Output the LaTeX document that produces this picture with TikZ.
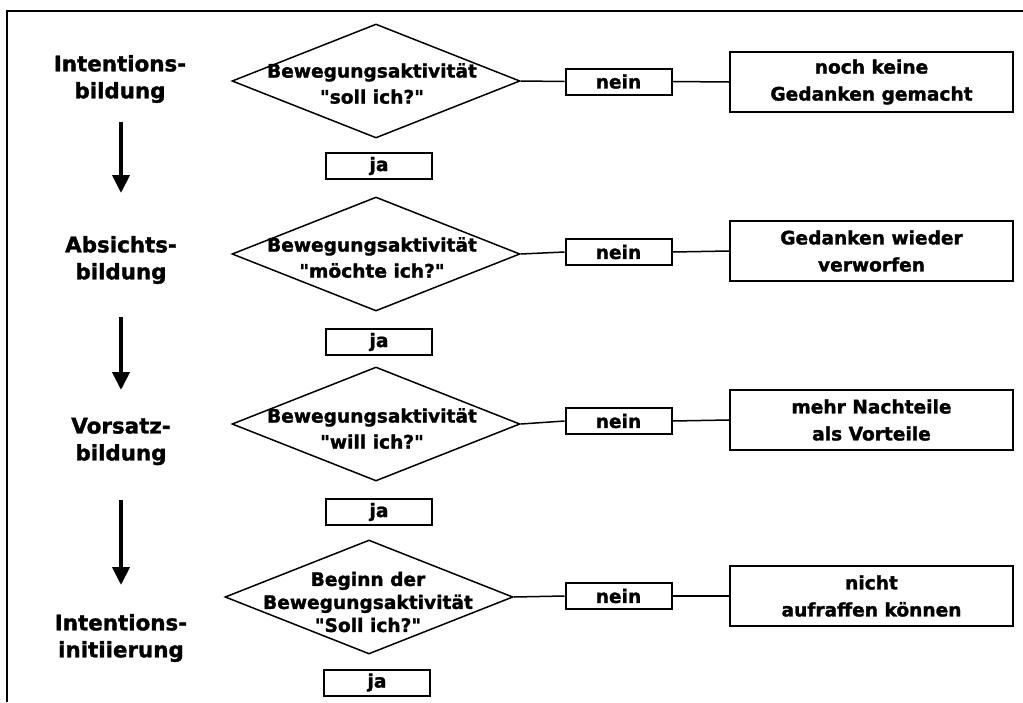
\documentclass[tikz,border=0pt]{standalone}
\usepackage{fontspec}
\newfontfamily\df{DejaVu Sans}[BoldFeatures={FakeBold=1.5}]
\usetikzlibrary{shapes.geometric,arrows.meta}
\begin{document}
\begin{tikzpicture}[x=1pt,y=-1pt,
  every node/.style={inner sep=0pt},
  stagelbl/.style={align=center,font=\df\bfseries\fontsize{21.4}{27}\selectfont},
  txt/.style={align=center,font=\df\bfseries\fontsize{18.6}{26}\selectfont},
  dec/.style={shape=diamond,draw,line width=1.5pt,minimum width=288pt,minimum height=114pt},
  jabox/.style={draw,line width=2pt,minimum width=106pt,minimum height=26pt,font=\df\bfseries\fontsize{18.6}{26}\selectfont},
  neinbox/.style={draw,line width=2pt,minimum width=106pt,minimum height=26pt,font=\df\bfseries\fontsize{18.6}{26}\selectfont},
  resbox/.style={draw,line width=2pt,minimum width=283pt,minimum height=60pt,align=center,font=\df\bfseries\fontsize{18.6}{27}\selectfont},
  conn/.style={line width=1.5pt},
  bigarrow/.style={line width=4pt,-{Triangle[width=17pt,length=18pt]}}
]
\useasboundingbox (0,0) rectangle (1023,702);
% frame
\coordinate (fbl) at (7,702);
\coordinate (ftl) at (7,11);
\coordinate (ftr) at (1023,11);
\draw[line width=2pt] (fbl) -- (ftl) -- (ftr);

% stage labels
\node[stagelbl] (lab1) at (120,79) {Intentions-\\bildung};
\node[stagelbl] (lab2) at (121,260) {Absichts-\\bildung};
\node[stagelbl] (lab3) at (121,441.5) {Vorsatz-\\bildung};
\node[stagelbl] (lab4) at (121,638) {Intentions-\\initiierung};

% arrows
\coordinate (a1s) at (121,122); \coordinate (a1e) at (121,193);
\coordinate (a2s) at (121,317); \coordinate (a2e) at (121,390);
\coordinate (a3s) at (121,500); \coordinate (a3e) at (121,585);
\draw[bigarrow] (a1s) -- (a1e);
\draw[bigarrow] (a2s) -- (a2e);
\draw[bigarrow] (a3s) -- (a3e);

% diamonds
\node[dec] (d1) at (376,81) {};
\node[dec] (d2) at (376,254) {};
\node[dec] (d3) at (376,424) {};
\node[dec] (d4) at (369,597) {};
\node[txt] (t1) at (372,83.5) {Bewegungsaktivität\\"soll ich?"};
\node[txt] (t2) at (372,257.5) {Bewegungsaktivität\\"möchte ich?"};
\node[txt] (t3) at (372,428.5) {Bewegungsaktivität\\"will ich?"};
\node[txt,font=\df\bfseries\fontsize{18.6}{23}\selectfont] (t4) at (368,602) {Beginn der\\Bewegungsaktivität\\"Soll ich?"};

% ja boxes
\node[jabox] (j1) at (379,166) {ja};
\node[jabox] (j2) at (379,342) {ja};
\node[jabox] (j3) at (379,512) {ja};
\node[jabox] (j4) at (377,682.5) {ja};

% nein boxes
\node[neinbox] (n1) at (618.5,81.5) {nein};
\node[neinbox] (n2) at (618.5,252) {nein};
\node[neinbox] (n3) at (618.5,421) {nein};
\node[neinbox] (n4) at (618.5,596) {nein};

% result boxes
\node[resbox] (r1) at (871.5,82) {noch keine\\Gedanken gemacht};
\node[resbox] (r2) at (871.5,251) {Gedanken wieder\\verworfen};
\node[resbox] (r3) at (871.5,420) {mehr Nachteile\\als Vorteile};
\node[resbox] (r4) at (871.5,596) {nicht\\aufraffen können};

% connectors
\foreach \i in {1,2,3,4}{
  \draw[conn] (d\i.east) -- (n\i.west);
  \draw[conn] (n\i.east) -- (r\i.west);
}
\end{tikzpicture}
\end{document}
